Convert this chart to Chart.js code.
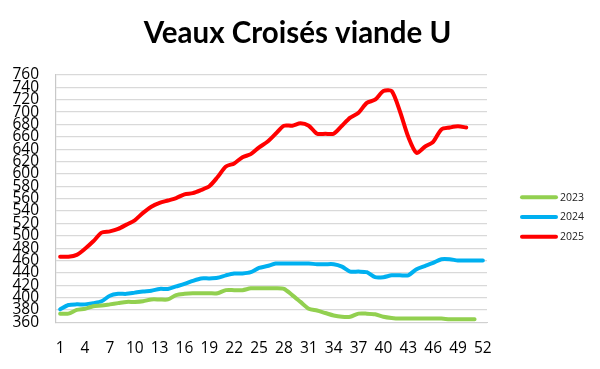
<!DOCTYPE html>
<html>
<head>
<meta charset="utf-8">
<script src="https://cdn.jsdelivr.net/npm/chart.js@4/dist/chart.umd.min.js"></script>
<style>
  html, body { margin: 0; padding: 0; background: #ffffff; }
  #wrap { width: 600px; height: 369px; position: relative; }
</style>
</head>
<body>
<div id="wrap"><canvas id="c" width="600" height="369"></canvas></div>
<script>
const chartTitle = "Veaux Croisés viande U";
const weeks = [1,2,3,4,5,6,7,8,9,10,11,12,13,14,15,16,17,18,19,20,21,22,23,24,25,26,
               27,28,29,30,31,32,33,34,35,36,37,38,39,40,41,42,43,44,45,46,47,48,49,50,51,52];
const seriesNames = ["2023", "2024", "2025"];
const values2023 = [374,374,380,382,386,387,389,391,393,393,394,397,397,397,404,406,407,407,407,407,
                    412,412,412,415,415,415,415,414,404,393,382,379,375,371,369,369,374,374,373,369,
                    367,366,366,366,366,366,366,365,365,365,365];
const values2024 = [381,388,389,389,391,394,403,406,406,408,410,411,414,414,418,422,427,431,431,432,
                    436,439,439,441,448,451,455,455,455,455,455,454,454,454,450,442,442,441,433,433,
                    436,436,436,446,451,456,462,462,460,460,460,460];
const values2025 = [466,466,469,479,491,505,507,511,518,525,537,547,553,557,561,567,569,574,580,595,
                    612,617,627,632,643,652,665,678,678,682,678,665,665,665,678,691,699,715,720,734,
                    734,701,660,634,644,652,672,675,677,675];
const yTicks = [360,380,400,420,440,460,480,500,520,540,560,580,600,620,640,660,680,700,720,740,760];
const xTickLabels = [1,4,7,10,13,16,19,22,25,28,31,34,37,40,43,46,49,52];

const colors = ["#92D050", "#00B0F0", "#FF0000"];
const allValues = [values2023, values2024, values2025];

const tickFont = { family: "'Open Sans', 'Liberation Sans', sans-serif", size: 15.5 };

const overlay = {
  id: 'overlay',
  afterDraw(chart) {
    const ctx = chart.ctx;
    ctx.save();
    // title
    ctx.fillStyle = '#000';
    ctx.font = "bold 29.5px Lato, 'Open Sans', sans-serif";
    ctx.textAlign = 'center';
    ctx.textBaseline = 'alphabetic';
    ctx.fillText(chartTitle, 297.5, 43);
    // legend
    const ys = [197.3, 216.9, 236.7];
    ctx.lineCap = 'round';
    ctx.lineWidth = 4;
    ctx.font = "10.5px 'Open Sans', 'Liberation Sans', sans-serif";
    ctx.textAlign = 'left';
    ctx.textBaseline = 'middle';
    chart.data.datasets.forEach((ds, i) => {
      ctx.strokeStyle = ds.borderColor;
      ctx.beginPath();
      ctx.moveTo(522, ys[i]);
      ctx.lineTo(556, ys[i]);
      ctx.stroke();
      ctx.fillStyle = '#222';
      ctx.fillText(ds.label, 560, ys[i] + 0.5);
    });
    ctx.restore();
  }
};

new Chart(document.getElementById('c'), {
  type: 'line',
  data: {
    labels: weeks,
    datasets: seriesNames.map((name, i) => ({
      label: name,
      data: allValues[i],
      borderColor: colors[i],
      backgroundColor: colors[i],
      borderWidth: 4,
      pointRadius: 0,
      tension: 0.25,
      borderCapStyle: 'round',
      borderJoinStyle: 'round',
      fill: false
    }))
  },
  options: {
    responsive: false,
    animation: false,
    layout: { padding: { top: 75, right: 113, bottom: 0, left: 0 } },
    plugins: {
      legend: { display: false },
      title: { display: false },
      tooltip: { enabled: false }
    },
    scales: {
      x: {
        offset: true,
        grid: { display: false, drawTicks: false },
        border: { display: true, color: '#d0d0d0', width: 1 },
        ticks: {
          autoSkip: false,
          maxRotation: 0,
          minRotation: 0,
          padding: 17,
          color: '#000',
          font: tickFont,
          callback: function(val, idx) {
            const lab = weeks[idx];
            return xTickLabels.includes(lab) ? String(lab) : '';
          }
        },
        afterFit(scale) { scale.height = 46.7; }
      },
      y: {
        min: yTicks[0],
        max: yTicks[yTicks.length - 1],
        afterBuildTicks(scale) { scale.ticks = yTicks.map(v => ({ value: v })); },
        grid: { color: '#d9d9d9', lineWidth: 1.2, drawTicks: false },
        border: { display: true, color: '#c8c8c8', width: 1.2 },
        ticks: {
          autoSkip: false,
          padding: 17,
          color: '#000',
          font: tickFont
        },
        afterFit(scale) { scale.width = 56; }
      }
    }
  },
  plugins: [overlay]
});
</script>
</body>
</html>
